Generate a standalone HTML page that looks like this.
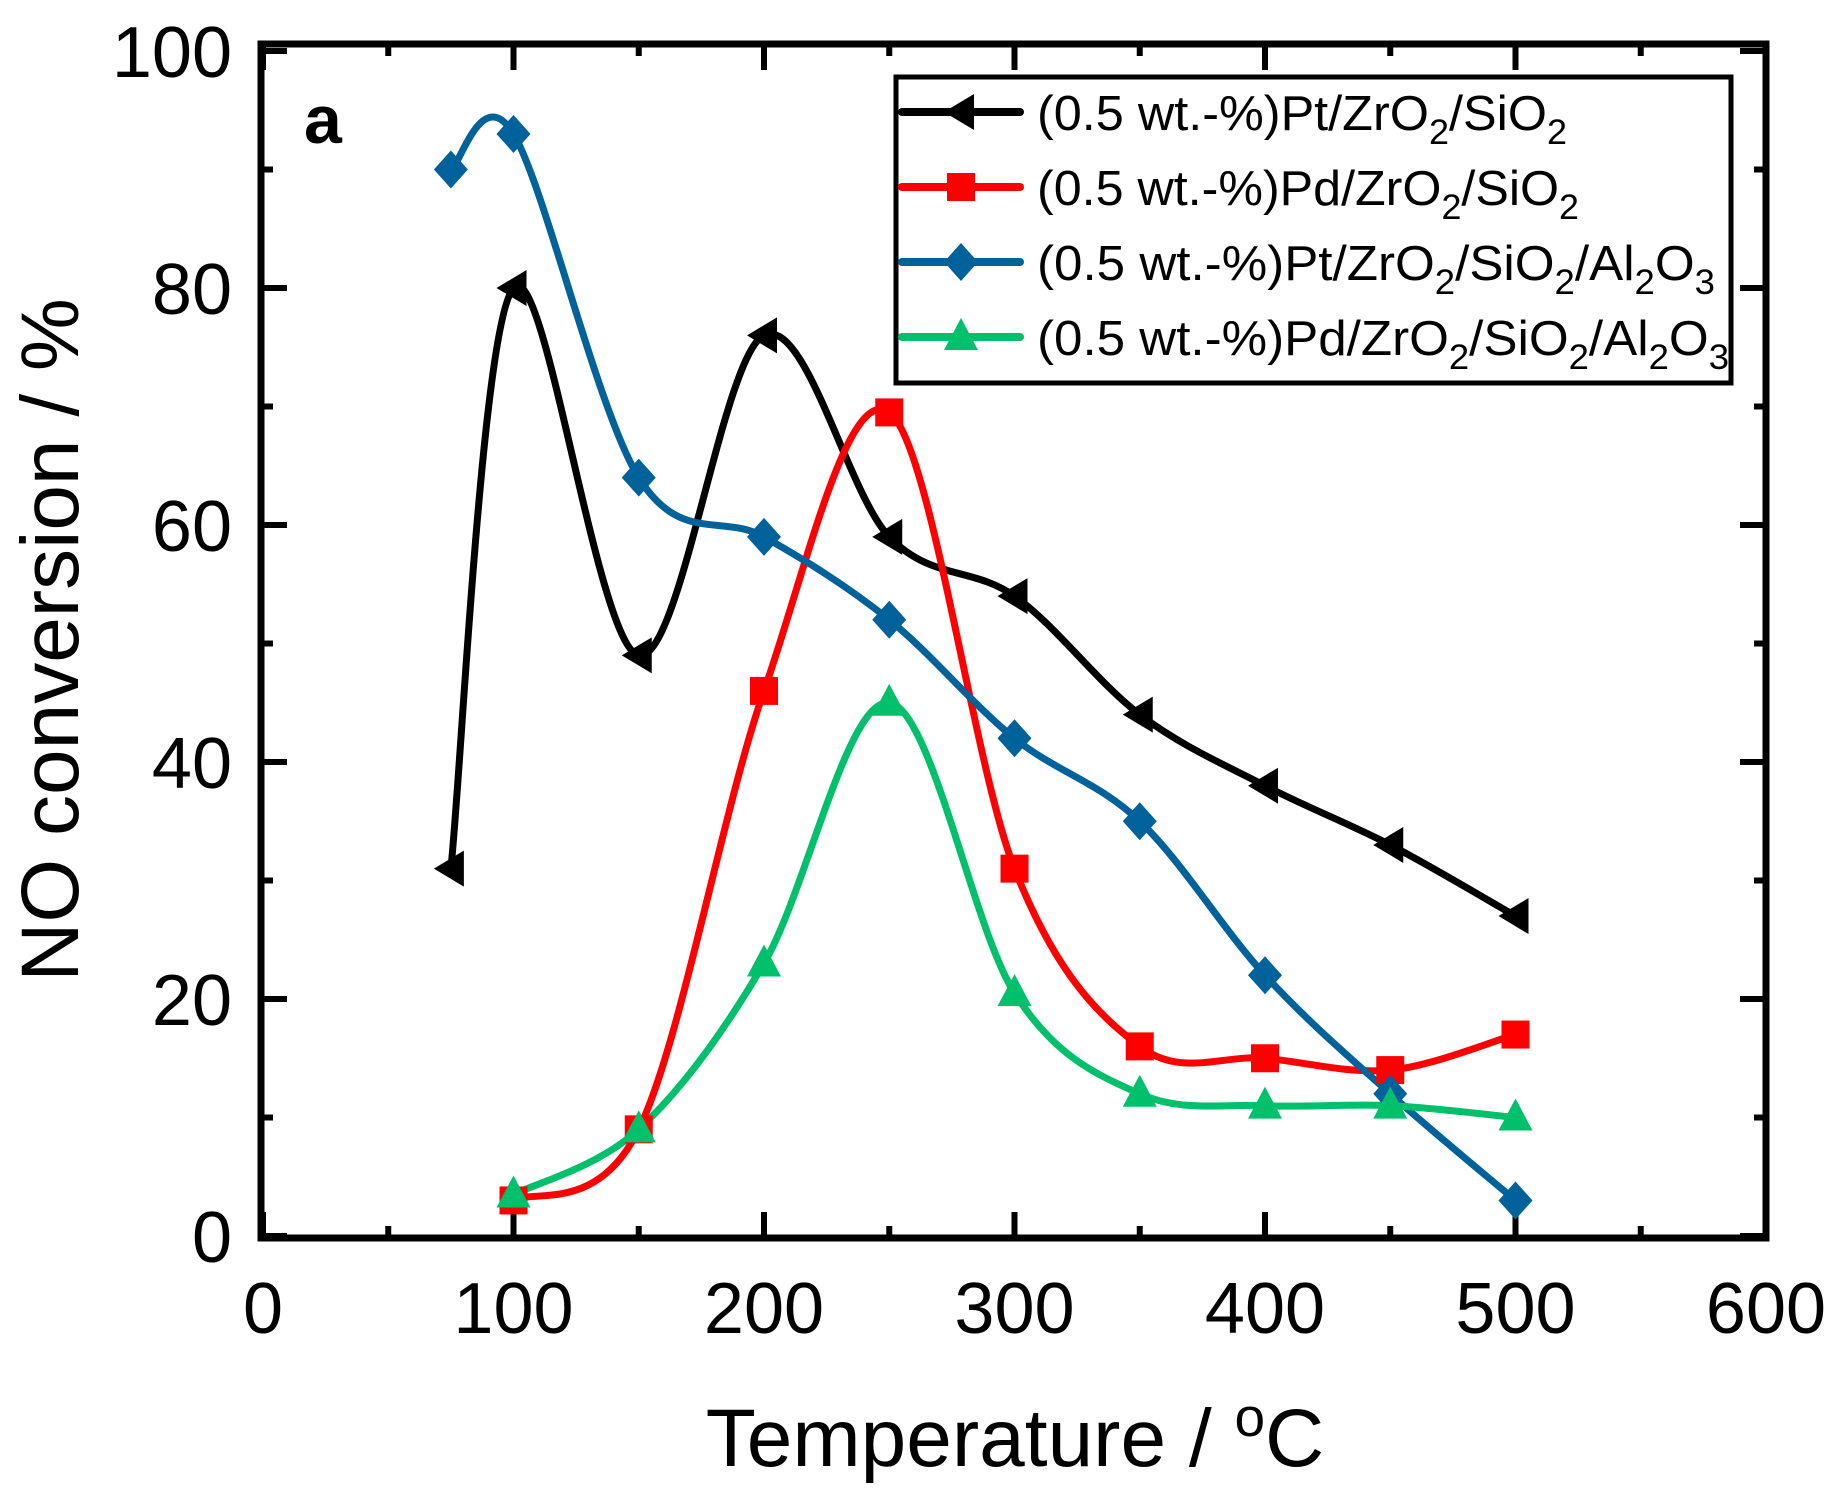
<!DOCTYPE html>
<html><head><meta charset="utf-8"><style>
html,body{margin:0;padding:0;background:#fff}
svg{display:block}
text{font-family:"Liberation Sans",sans-serif}
</style></head><body>
<svg id="s" width="1839" height="1490" viewBox="0 0 1839 1490" xmlns="http://www.w3.org/2000/svg">
<g id="ticks" stroke="#000" stroke-width="6"></g>
<g id="curves" fill="none" stroke-width="7" stroke-linejoin="round"></g>
<g id="marks"></g>
<rect x="261" y="44" width="1505" height="1194" fill="none" stroke="#000" stroke-width="7"/>
<g font-size="72" fill="#000" id="lbl"></g>
<text x="304" y="143" font-size="68" font-weight="bold" font-family="Liberation Sans, sans-serif">a</text>
<text transform="translate(78,640) rotate(-90)" font-size="82" text-anchor="middle">NO conversion / %</text>
<text x="1015" y="1466" font-size="82" text-anchor="middle">Temperature / <tspan dy="-30" font-size="55">o</tspan><tspan dy="30">C</tspan></text>
<rect x="896" y="77" width="835" height="306" fill="#fff" stroke="#000" stroke-width="5"/>
<g id="leg" font-size="49"></g>
</svg>
<script>
const X=v=>263+v*2.505, Y=v=>1236-v*11.85;
const NS="http://www.w3.org/2000/svg";
function el(p,t,a,txt){const e=document.createElementNS(NS,t);for(const k in a)e.setAttribute(k,a[k]);if(txt!==undefined)e.textContent=txt;p.appendChild(e);return e;}
const tk=document.getElementById('ticks'),lb=document.getElementById('lbl');
for(let v=0;v<=600;v+=50){const L=v%100?12:26,x=X(v);
 el(tk,'line',{x1:x,y1:1238,x2:x,y2:1238-L});el(tk,'line',{x1:x,y1:44,x2:x,y2:44+L});
 if(v%100==0)el(lb,'text',{x:x,y:1333,'text-anchor':'middle'},v);}
for(let v=0;v<=100;v+=10){const L=v%20?12:26,y=Y(v);
 el(tk,'line',{x1:261,y1:y,x2:261+L,y2:y});el(tk,'line',{x1:1766,y1:y,x2:1766-L,y2:y});
 if(v%20==0)el(lb,'text',{x:232,y:y+26,'text-anchor':'end'},v);}
const S=[
 {c:'#000',m:'tri-l',d:[[75,31],[100,80],[150,49],[200,76],[250,59],[300,54],[350,44],[400,38],[450,33],[500,27]]},
 {c:'#ff0000',m:'sq',d:[[100,3],[150,9],[200,46],[250,69.5],[300,31],[350,16],[400,15],[450,14],[500,17]]},
 {c:'#00629b',m:'dia',d:[[75,90],[100,93],[150,64],[200,59],[250,52],[300,42],[350,35],[400,22],[450,12],[500,3]]},
 {c:'#00c06b',m:'tri',d:[[100,3.5],[150,9],[200,23],[250,45],[300,20.5],[350,12],[400,11],[450,11],[500,10]]}];
const cv=document.getElementById('curves'),mk=document.getElementById('marks');
function marker(g,t,x,y,c){const r=14;
 if(t=='sq')el(g,'rect',{x:x-r,y:y-r,width:2*r,height:2*r,fill:c});
 if(t=='dia')el(g,'polygon',{points:`${x},${y-19} ${x+17},${y} ${x},${y+19} ${x-17},${y}`,fill:c});
 if(t=='tri')el(g,'polygon',{points:`${x},${y-19} ${x+17},${y+13} ${x-17},${y+13}`,fill:c});
 if(t=='tri-l')el(g,'polygon',{points:`${x-17},${y} ${x+13},${y-18} ${x+13},${y+18}`,fill:c});}
S.forEach(s=>{const p=s.d.map(([a,b])=>[X(a),Y(b)]);let d=`M${p[0][0]},${p[0][1]}`;
 for(let i=0;i<p.length-1;i++){const p0=p[i-1]||p[i],p1=p[i],p2=p[i+1],p3=p[i+2]||p2;
  d+=` C${p1[0]+(p2[0]-p0[0])/6},${p1[1]+(p2[1]-p0[1])/6} ${p2[0]-(p3[0]-p1[0])/6},${p2[1]-(p3[1]-p1[1])/6} ${p2[0]},${p2[1]}`;}
 el(cv,'path',{d:d,stroke:s.c});});
S.forEach(s=>s.d.forEach(([a,b])=>marker(mk,s.m,X(a),Y(b),s.c)));
const lg=document.getElementById('leg');
const labels=[['Pt/ZrO','2','/SiO','2'],['Pd/ZrO','2','/SiO','2'],['Pt/ZrO','2','/SiO','2','/Al','2','O','3'],['Pd/ZrO','2','/SiO','2','/Al','2','O','3']];
const widths=[530,542,678,692];
S.forEach((s,i)=>{const y=112+i*75;
 el(lg,'line',{x1:902,y1:y,x2:1020,y2:y,stroke:s.c,'stroke-width':8,'stroke-linecap':'round'});
 marker(lg,s.m,961,y,s.c);
 const t=el(lg,'text',{x:1037,y:y+18,textLength:widths[i],lengthAdjust:'spacingAndGlyphs'});
 el(t,'tspan',{},'(0.5 wt.-%)');
 labels[i].forEach((p,j)=>{ if(j%2) el(t,'tspan',{dy:14,'font-size':35},p); else el(t,'tspan',{dy:j?-14:0},p);});
});
</script>
</body></html>
